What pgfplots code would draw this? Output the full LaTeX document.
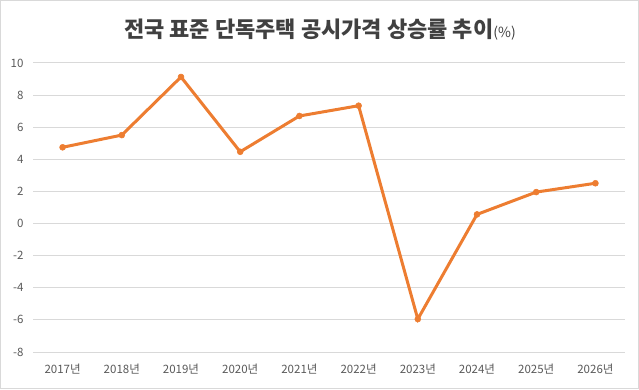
\documentclass[border=0pt]{standalone}
\usepackage{pgfplots}
\pgfplotsset{compat=1.18}
\usepackage{fontspec}
\setmainfont{Noto Sans CJK KR}
\definecolor{lineor}{HTML}{ED7D31}
\definecolor{gridc}{HTML}{D9D9D9}
\definecolor{tickc}{HTML}{595959}
\definecolor{titlec}{HTML}{404040}
\begin{document}
\begin{tikzpicture}[x=1bp,y=1bp]
\useasboundingbox (0,0) rectangle (639,389);
\draw[gridc, line width=1bp] (0.5,0.5) rectangle (638.5,388.5);
\node[anchor=center, text=titlec, font=\fontsize{22bp}{26bp}\selectfont\bfseries, inner sep=0] at (320,359)
  {전국 표준 단독주택 공시가격 상승률 추이{\mdseries\fontsize{14bp}{16bp}\selectfont(\%)}};
\begin{axis}[
  at={(33bp,37bp)}, anchor=south west,
  scale only axis, width=592bp, height=289bp,
  xmin=-0.5, xmax=9.5, ymin=-8, ymax=10,
  xtick={0,...,9},
  xticklabels={2017년,2018년,2019년,2020년,2021년,2022년,2023년,2024년,2025년,2026년},
  ytick={-8,-6,...,10},
  yticklabels={-8,-6,-4,-2,0,2,4,6,8,10},
  axis line style={draw=none},
  major tick length=0pt,
  ymajorgrids, grid style={gridc, line width=1bp},
  tick label style={text=tickc, font=\fontsize{11.5bp}{13bp}\selectfont},
  yticklabel style={anchor=east, xshift=-6bp},
  xticklabel style={yshift=-8bp},
  clip=false,
]
\addplot[color=lineor, line width=3bp, mark=*, mark size=3bp, mark options={fill=lineor, draw=lineor, line width=0.5bp}]
  coordinates {(0,4.75) (1,5.51) (2,9.13) (3,4.47) (4,6.70) (5,7.34) (6,-5.95) (7,0.57) (8,1.96) (9,2.51)};
\end{axis}
\end{tikzpicture}
\end{document}
